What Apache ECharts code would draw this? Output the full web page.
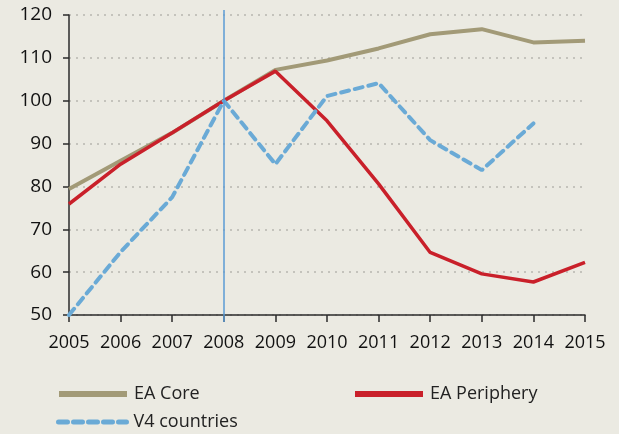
<!DOCTYPE html>
<html>
<head>
<meta charset="utf-8">
<script src="https://cdn.jsdelivr.net/npm/echarts@6/dist/echarts.min.js"></script>
<style>
  html, body { margin: 0; padding: 0; background: #ebeae2; }
  #chart { width: 619px; height: 434px; }
</style>
</head>
<body>
<div id="chart"></div>
<script>
const years = ['2005', '2006', '2007', '2008', '2009', '2010', '2011', '2012', '2013', '2014', '2015'];
const eaCore = [79.4, 86.0, 92.5, 100, 107.2, 109.4, 112.2, 115.5, 116.7, 113.6, 114.0];
const eaPeriphery = [75.9, 85.2, 92.5, 100, 106.9, 95.3, 80.6, 64.6, 59.6, 57.7, 62.3];
const v4 = [50, 64.7, 77.5, 100, 85.2, 101.1, 104.1, 90.8, 83.8, 94.7, null];
const markYear = '2008';

const font = 'Open Sans, Noto Sans, sans-serif';
const coreColor = '#a29a77';
const periColor = '#c9202a';
const v4Color = '#6aaad6';

function legendAt(name, left, top, lineStyle) {
  return {
    data: [{ name: name, lineStyle: lineStyle }],
    left: left, top: top, padding: 0,
    itemWidth: 68, itemHeight: 14,
    itemStyle: { opacity: 0 },
    textStyle: { fontSize: 18, color: '#222', fontFamily: font, padding: [0, 0, 0, 2] }
  };
}

const chart = echarts.init(document.getElementById('chart'));

chart.setOption({
  backgroundColor: '#ebeae2',
  animation: false,
  grid: [
    { left: 69, right: 34, top: 15, bottom: 119, containLabel: false },
    // a taller twin grid, only used for the 2008 marker line
    { left: 69, right: 34, top: 10, bottom: 112, containLabel: false }
  ],
  legend: [
    legendAt('EA Core', 56, 385, { color: coreColor, width: 6 }),
    legendAt('EA Periphery', 352, 385, { color: periColor, width: 6 }),
    legendAt('V4 countries', 56, 413, { color: v4Color, width: 5, type: [9, 6], cap: 'round' })
  ],
  xAxis: [
    {
      type: 'category',
      data: years,
      boundaryGap: false,
      axisLine: { lineStyle: { color: '#2b2b2b', width: 1.5 } },
      axisTick: { show: true, length: 7, interval: 0, lineStyle: { color: '#2b2b2b', width: 1.5 } },
      axisLabel: { fontSize: 18, color: '#111', fontFamily: font, margin: 19, interval: 0 },
      splitLine: { show: false }
    },
    { type: 'category', data: years, boundaryGap: false, gridIndex: 1, show: false }
  ],
  yAxis: [
    {
      type: 'value',
      min: 50,
      max: 120,
      interval: 10,
      axisLine: { show: true, lineStyle: { color: '#2b2b2b', width: 1.5 } },
      axisTick: { show: true, length: 6, lineStyle: { color: '#2b2b2b', width: 1.5 } },
      axisLabel: { fontSize: 19, color: '#111', fontFamily: font, margin: 17 },
      splitLine: { show: true, lineStyle: { color: '#b8b7b0', type: [2, 5], width: 1.5 } }
    },
    { type: 'value', gridIndex: 1, show: false, min: 0, max: 1 }
  ],
  series: [
    {
      name: 'EA Core', type: 'line', data: eaCore, symbol: 'none',
      lineStyle: { color: coreColor, width: 4 }, itemStyle: { color: coreColor },
      z: 2
    },
    {
      name: 'EA Periphery', type: 'line', data: eaPeriphery, symbol: 'none',
      lineStyle: { color: periColor, width: 3.5 }, itemStyle: { color: periColor },
      z: 3
    },
    {
      name: 'V4 countries', type: 'line', data: v4, symbol: 'none',
      lineStyle: { color: v4Color, width: 4, type: [8, 6], cap: 'round' },
      itemStyle: { color: v4Color },
      z: 4
    },
    {
      name: 'marker', type: 'line', xAxisIndex: 1, yAxisIndex: 1, data: [],
      symbol: 'none', z: 5,
      markLine: {
        silent: true, symbol: 'none', label: { show: false },
        lineStyle: { color: '#5b9bd5', width: 1.5, type: 'solid' },
        data: [{ xAxis: markYear }]
      }
    }
  ]
});
</script>
</body>
</html>
